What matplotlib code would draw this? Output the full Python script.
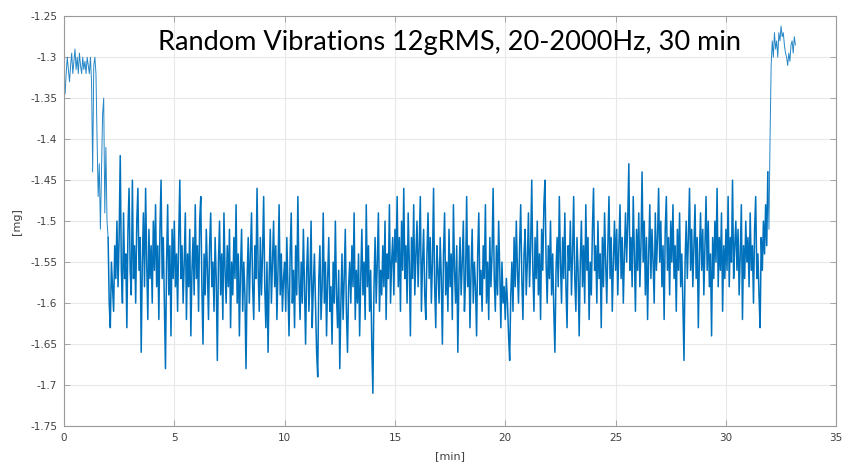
import numpy as np
import matplotlib
matplotlib.use("Agg")
import matplotlib.pyplot as plt
from matplotlib.ticker import FuncFormatter

# ---------------- data (sampling step 0.05 min) ----------------
dt_min = 0.05

# 0.00 .. 1.95 min : before / ramp-up
mg_before = [-1.32, -1.345, -1.32, -1.30, -1.315, -1.33, -1.31, -1.295, -1.32, -1.305,
             -1.29, -1.315, -1.30, -1.32, -1.295, -1.31, -1.32, -1.30, -1.315, -1.305,
             -1.32, -1.30, -1.31, -1.32, -1.30, -1.33, -1.44, -1.31, -1.30, -1.32,
             -1.40, -1.47, -1.43, -1.51, -1.44, -1.37, -1.35, -1.49, -1.41, -1.50]

# 2.00 .. 4.95 min
mg_02_05 = [-1.52, -1.60, -1.63, -1.55, -1.58, -1.61, -1.53, -1.57, -1.50, -1.58,
            -1.52, -1.42, -1.56, -1.60, -1.49, -1.57, -1.54, -1.63, -1.51, -1.46,
            -1.56, -1.59, -1.45, -1.57, -1.53, -1.60, -1.50, -1.46, -1.56, -1.52,
            -1.66, -1.55, -1.49, -1.58, -1.46, -1.55, -1.62, -1.51, -1.57, -1.53,
            -1.60, -1.50, -1.56, -1.48, -1.58, -1.53, -1.62, -1.51, -1.45, -1.57,
            -1.52, -1.60, -1.68, -1.55, -1.48, -1.59, -1.53, -1.64, -1.51, -1.57]

# 5.00 .. 9.95 min
mg_05_10 = [-1.50, -1.58, -1.54, -1.61, -1.52, -1.45, -1.57, -1.53, -1.60, -1.55,
            -1.49, -1.62, -1.54, -1.58, -1.51, -1.64, -1.56, -1.52, -1.59, -1.48,
            -1.57, -1.53, -1.61, -1.50, -1.47, -1.58, -1.65, -1.54, -1.59, -1.51,
            -1.56, -1.62, -1.53, -1.49, -1.58, -1.55, -1.61, -1.52, -1.57, -1.67,
            -1.55, -1.50, -1.59, -1.54, -1.62, -1.49, -1.56, -1.60, -1.53, -1.58,
            -1.51, -1.63, -1.55, -1.59, -1.52, -1.57, -1.48, -1.60, -1.54, -1.64,
            -1.56, -1.51, -1.61, -1.55, -1.59, -1.68, -1.57, -1.52, -1.60, -1.54,
            -1.49, -1.58, -1.62, -1.53, -1.57, -1.46, -1.56, -1.61, -1.52, -1.59,
            -1.54, -1.47, -1.58, -1.63, -1.55, -1.66, -1.57, -1.51, -1.60, -1.55,
            -1.50, -1.58, -1.53, -1.62, -1.56, -1.48, -1.59, -1.54, -1.61, -1.57]

# 10.00 .. 14.95 min
mg_10_15 = [-1.55, -1.61, -1.52, -1.58, -1.64, -1.54, -1.49, -1.60, -1.56, -1.63,
            -1.53, -1.59, -1.47, -1.57, -1.62, -1.55, -1.60, -1.51, -1.58, -1.65,
            -1.56, -1.52, -1.61, -1.57, -1.50, -1.63, -1.58, -1.54, -1.60, -1.66,
            -1.69, -1.57, -1.53, -1.62, -1.58, -1.49, -1.60, -1.55, -1.64, -1.57,
            -1.52, -1.61, -1.58, -1.65, -1.55, -1.60, -1.50, -1.59, -1.63, -1.56,
            -1.68, -1.60, -1.54, -1.62, -1.57, -1.51, -1.61, -1.66, -1.58, -1.55,
            -1.60, -1.53, -1.58, -1.49, -1.62, -1.56, -1.60, -1.54, -1.64, -1.57,
            -1.51, -1.59, -1.55, -1.62, -1.48, -1.58, -1.53, -1.61, -1.56, -1.65,
            -1.71, -1.58, -1.52, -1.60, -1.55, -1.49, -1.61, -1.56, -1.59, -1.53,
            -1.58, -1.50, -1.62, -1.54, -1.57, -1.48, -1.60, -1.55, -1.52, -1.59]

# 15.00 .. 19.95 min
mg_15_20 = [-1.51, -1.55, -1.47, -1.58, -1.52, -1.61, -1.50, -1.56, -1.46, -1.57,
            -1.53, -1.60, -1.49, -1.55, -1.64, -1.52, -1.57, -1.48, -1.59, -1.54,
            -1.50, -1.58, -1.53, -1.47, -1.61, -1.55, -1.51, -1.59, -1.62, -1.54,
            -1.49, -1.57, -1.52, -1.60, -1.55, -1.46, -1.58, -1.63, -1.53, -1.56,
            -1.60, -1.52, -1.57, -1.65, -1.54, -1.49, -1.59, -1.55, -1.61, -1.51,
            -1.58, -1.54, -1.62, -1.48, -1.56, -1.60, -1.53, -1.66, -1.57, -1.52,
            -1.59, -1.55, -1.50, -1.61, -1.57, -1.47, -1.58, -1.53, -1.63, -1.56,
            -1.51, -1.60, -1.55, -1.58, -1.64, -1.54, -1.49, -1.59, -1.56, -1.61,
            -1.53, -1.57, -1.48, -1.60, -1.55, -1.62, -1.52, -1.58, -1.54, -1.46,
            -1.57, -1.61, -1.53, -1.59, -1.50, -1.56, -1.63, -1.55, -1.60, -1.58]

# 20.00 .. 24.95 min
mg_20_25 = [-1.62, -1.57, -1.60, -1.64, -1.67, -1.59, -1.55, -1.61, -1.52, -1.58,
            -1.50, -1.56, -1.60, -1.53, -1.48, -1.57, -1.62, -1.54, -1.51, -1.59,
            -1.55, -1.49, -1.58, -1.53, -1.45, -1.56, -1.61, -1.52, -1.57, -1.50,
            -1.59, -1.54, -1.62, -1.51, -1.56, -1.48, -1.45, -1.55, -1.60, -1.53,
            -1.57, -1.50, -1.59, -1.54, -1.61, -1.66, -1.56, -1.52, -1.58, -1.47,
            -1.55, -1.60, -1.52, -1.57, -1.49, -1.58, -1.63, -1.53, -1.56, -1.50,
            -1.59, -1.54, -1.47, -1.57, -1.61, -1.52, -1.56, -1.64, -1.55, -1.50,
            -1.58, -1.53, -1.60, -1.48, -1.56, -1.52, -1.62, -1.55, -1.59, -1.51,
            -1.46, -1.56, -1.53, -1.60, -1.50, -1.57, -1.54, -1.63, -1.52, -1.58,
            -1.49, -1.55, -1.60, -1.53, -1.47, -1.57, -1.52, -1.61, -1.55, -1.50]

# 25.00 .. 29.95 min
mg_25_30 = [-1.56, -1.51, -1.59, -1.53, -1.48, -1.57, -1.52, -1.60, -1.54, -1.49,
            -1.55, -1.50, -1.43, -1.56, -1.52, -1.58, -1.47, -1.54, -1.61, -1.51,
            -1.56, -1.49, -1.58, -1.53, -1.44, -1.55, -1.50, -1.59, -1.52, -1.62,
            -1.54, -1.48, -1.57, -1.51, -1.55, -1.60, -1.49, -1.56, -1.52, -1.46,
            -1.55, -1.50, -1.58, -1.53, -1.62, -1.51, -1.47, -1.56, -1.52, -1.59,
            -1.50, -1.55, -1.48, -1.57, -1.53, -1.61, -1.51, -1.56, -1.49, -1.58,
            -1.54, -1.60, -1.67, -1.55, -1.50, -1.57, -1.52, -1.46, -1.56, -1.51,
            -1.58, -1.53, -1.48, -1.57, -1.52, -1.63, -1.54, -1.49, -1.56, -1.51,
            -1.59, -1.53, -1.47, -1.56, -1.50, -1.58, -1.54, -1.64, -1.52, -1.57,
            -1.50, -1.55, -1.46, -1.58, -1.52, -1.56, -1.49, -1.61, -1.53, -1.57]

# 30.00 .. 31.80 min
mg_30_32 = [-1.51, -1.56, -1.47, -1.58, -1.52, -1.55, -1.45, -1.57, -1.53, -1.50,
            -1.56, -1.51, -1.59, -1.54, -1.48, -1.62, -1.53, -1.57, -1.50, -1.55,
            -1.52, -1.58, -1.49, -1.56, -1.53, -1.60, -1.51, -1.47, -1.57, -1.54,
            -1.59, -1.63, -1.52, -1.56, -1.50, -1.54, -1.48]

# 31.85 .. 33.15 min : after
mg_after = [-1.53, -1.44, -1.51, -1.40, -1.31, -1.28, -1.30, -1.27, -1.29, -1.28,
            -1.30, -1.27, -1.28, -1.262, -1.275, -1.27, -1.285, -1.295, -1.30, -1.31,
            -1.295, -1.305, -1.285, -1.28, -1.295, -1.275, -1.285]

title_text = "Random Vibrations 12gRMS, 20-2000Hz, 30 min"
x_ticks = [0, 5, 10, 15, 20, 25, 30, 35]
y_ticks = [-1.75, -1.7, -1.65, -1.6, -1.55, -1.5, -1.45, -1.4, -1.35, -1.3, -1.25]

# ---------------- assemble ----------------
n_before = len(mg_before)
n_after = len(mg_after)
mg = np.array(mg_before + mg_02_05 + mg_05_10 + mg_10_15 + mg_15_20 +
              mg_20_25 + mg_25_30 + mg_30_32 + mg_after)
t = np.arange(len(mg)) * dt_min

# ---------------- plot ----------------
fig = plt.figure(figsize=(8.44, 4.71), dpi=100)
ax = fig.add_axes([0.0758, 0.0955, 0.915, 0.870])

blue = "#0072BD"
# quiet parts drawn thinner (as in the reference), vibration band thicker
ax.plot(t[:n_before + 1], mg[:n_before + 1], color=blue, lw=0.7, alpha=0.85)
ax.plot(t[n_before:len(mg) - n_after + 2], mg[n_before:len(mg) - n_after + 2],
        color=blue, lw=1.1)
ax.plot(t[len(mg) - n_after + 1:], mg[len(mg) - n_after + 1:], color=blue, lw=0.7, alpha=0.85)

ax.set_xlim(0, 35)
ax.set_ylim(-1.75, -1.25)
ax.set_xticks(x_ticks)
ax.set_yticks(y_ticks)
ax.yaxis.set_major_formatter(FuncFormatter(lambda v, p: f"{v:g}"))

ax.grid(True, color="#e8e8e8", lw=0.8)
ax.set_axisbelow(True)
for s in ax.spines.values():
    s.set_color("#9a9a9a")
    s.set_linewidth(0.8)
ax.tick_params(direction="in", length=4, width=0.6, color="#9a9a9a",
               top=True, right=True, labelsize=7.5, labelcolor="#404040", pad=5)

ax.set_ylabel("[mg]", fontsize=8, color="#404040", labelpad=6)
ax.set_xlabel("[min]", fontsize=8, color="#404040", labelpad=6)

fig.text(0.533, 0.894, title_text, ha="center", va="baseline",
         fontsize=19.5, family="Lato", fontweight="normal", color="black")

fig.savefig("out.png", dpi=100)
